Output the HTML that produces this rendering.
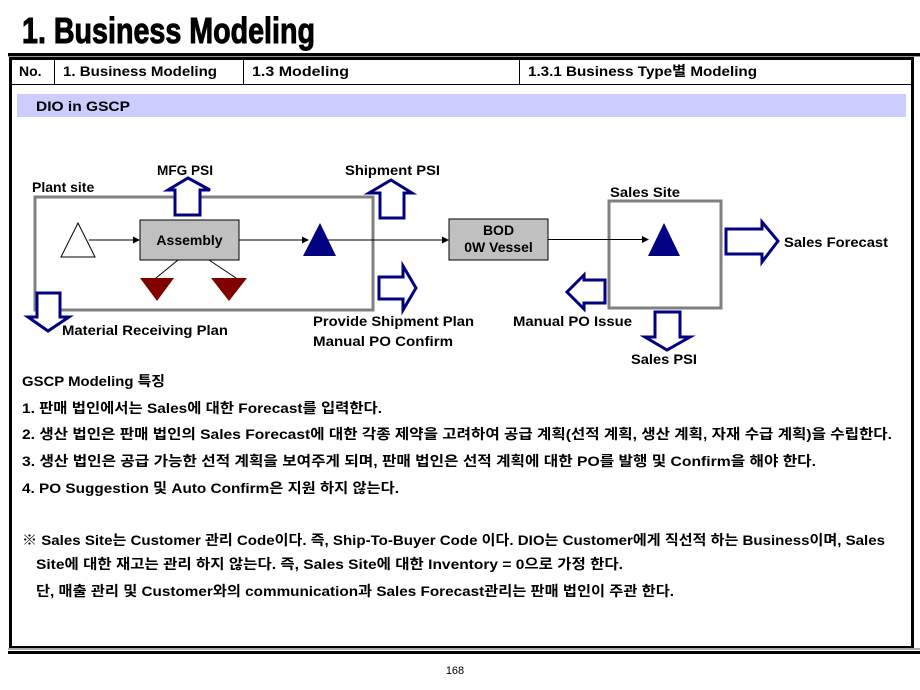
<!DOCTYPE html>
<html><head><meta charset="utf-8"><style>
html,body{margin:0;padding:0;background:#fff;}
svg{display:block;}
text{font-family:"Liberation Sans","Noto Sans CJK KR",sans-serif;font-weight:bold;fill:#000;}
</style></head><body>
<svg width="920" height="690" viewBox="0 0 920 690" xmlns="http://www.w3.org/2000/svg">
<text x="22" y="43" font-size="36" textLength="293" lengthAdjust="spacingAndGlyphs" stroke="#000" stroke-width="1">1. Business Modeling</text>
<rect x="8" y="53" width="912" height="3" fill="#000"/>
<rect x="8" y="56" width="912" height="1" fill="#999"/>
<rect x="10.5" y="58.5" width="902" height="589" fill="none" stroke="#000" stroke-width="3"/>
<rect x="8" y="648" width="912" height="2" fill="#aaa"/>
<rect x="8" y="651" width="912" height="3" fill="#000"/>
<line x1="10" y1="84.5" x2="913" y2="84.5" stroke="#000" stroke-width="1"/>
<line x1="54.5" y1="58" x2="54.5" y2="84" stroke="#000"/>
<line x1="243.5" y1="58" x2="243.5" y2="84" stroke="#000"/>
<line x1="519.5" y1="58" x2="519.5" y2="84" stroke="#000"/>
<g font-size="14">
<text x="19" y="76">No.</text>
<text x="63" y="76" textLength="154" lengthAdjust="spacingAndGlyphs">1. Business Modeling</text>
<text x="252" y="76" textLength="97" lengthAdjust="spacingAndGlyphs">1.3 Modeling</text>
<text x="528" y="76" textLength="229" lengthAdjust="spacingAndGlyphs">1.3.1 Business Type별 Modeling</text>
</g>
<rect x="17" y="94" width="889" height="23" fill="#ccccff"/>
<text x="36" y="111" font-size="14" textLength="94" lengthAdjust="spacingAndGlyphs">DIO in GSCP</text>

<rect x="35" y="197" width="338" height="113" fill="none" stroke="#808080" stroke-width="3"/>
<rect x="609" y="201" width="112" height="107" fill="none" stroke="#808080" stroke-width="3"/>
<polygon points="61,257 95,257 78,223" fill="#fff" stroke="#000" stroke-width="1"/>
<rect x="140" y="220" width="99" height="40" fill="#c0c0c0" stroke="#000"/>
<text x="189.5" y="245" font-size="14" text-anchor="middle">Assembly</text>
<rect x="449" y="219" width="99" height="41" fill="#c0c0c0" stroke="#000"/>
<text x="498.5" y="235" font-size="14" text-anchor="middle">BOD</text>
<text x="498.5" y="252" font-size="14" text-anchor="middle">0W Vessel</text>
<g stroke="#000" stroke-width="1">
<line x1="89" y1="240" x2="134" y2="240"/>
<line x1="239" y1="240" x2="302" y2="240"/>
<line x1="320" y1="240" x2="443" y2="240"/>
<line x1="548" y1="239.5" x2="643" y2="239.5"/>
<line x1="178" y1="260" x2="156" y2="278"/>
<line x1="209" y1="260" x2="236" y2="278"/>
</g>
<g fill="#000">
<polygon points="140,240 133,236.5 133,243.5"/>
<polygon points="309,240 302,236.5 302,243.5"/>
<polygon points="449,240 442,236.5 442,243.5"/>
<polygon points="649,239.5 642,236 642,243"/>
</g>
<polygon points="303,256 336,256 320,223" fill="#000080"/>
<polygon points="648,256 680,256 664,223" fill="#000080"/>
<polygon points="140,278 174,278 157,301" fill="#800000"/>
<polygon points="211,278 247,278 229,301" fill="#800000"/>

<g fill="#fff" stroke="#000080" stroke-width="3" stroke-linejoin="miter">
<polygon points="175,215 175,190 168,190 188,178 210,190 200,190 200,215"/>
<polygon points="380,218 380,193 369,193 391,180 412,193 404,193 404,218"/>
<polygon points="379,277 403,277 403,266 416,288 403,310 403,299 379,299"/>
<polygon points="37,293 60,293 60,317 69,317 48,331 28,317 37,317"/>
<polygon points="726,229 762,229 762,222 778,241 762,262 762,254 726,254"/>
<polygon points="605,280 584,280 584,275 567,292 584,309 584,303 605,303"/>
<polygon points="655,312 680,312 680,337 690,337 667,350 645,337 655,337"/>
</g>

<g font-size="14">
<text x="32" y="192">Plant site</text>
<text x="157" y="175" textLength="56" lengthAdjust="spacingAndGlyphs">MFG PSI</text>
<text x="345" y="175" textLength="95" lengthAdjust="spacingAndGlyphs">Shipment PSI</text>
<text x="610" y="197" textLength="70" lengthAdjust="spacingAndGlyphs">Sales Site</text>
<text x="784" y="247" textLength="104" lengthAdjust="spacingAndGlyphs">Sales Forecast</text>
<text x="62" y="335" textLength="166" lengthAdjust="spacingAndGlyphs">Material Receiving Plan</text>
<text x="313" y="326" textLength="161" lengthAdjust="spacingAndGlyphs">Provide Shipment Plan</text>
<text x="313" y="346" textLength="140" lengthAdjust="spacingAndGlyphs">Manual PO Confirm</text>
<text x="513" y="326" textLength="119" lengthAdjust="spacingAndGlyphs">Manual PO Issue</text>
<text x="631" y="364" textLength="66" lengthAdjust="spacingAndGlyphs">Sales PSI</text>
</g>

<g font-size="14">
<text x="22" y="386" textLength="143" lengthAdjust="spacingAndGlyphs">GSCP Modeling 특징</text>
<text x="22" y="413" textLength="360" lengthAdjust="spacingAndGlyphs">1. 판매 법인에서는 Sales에 대한 Forecast를 입력한다.</text>
<text x="22" y="439" textLength="870" lengthAdjust="spacingAndGlyphs">2. 생산 법인은 판매 법인의 Sales Forecast에 대한 각종 제약을 고려하여 공급 계획(선적 계획, 생산 계획, 자재 수급 계획)을 수립한다.</text>
<text x="22" y="466" textLength="794" lengthAdjust="spacingAndGlyphs">3. 생산 법인은 공급 가능한 선적 계획을 보여주게 되며, 판매 법인은 선적 계획에 대한 PO를 발행 및 Confirm을 해야 한다.</text>
<text x="22" y="493" textLength="377" lengthAdjust="spacingAndGlyphs">4. PO Suggestion 및 Auto Confirm은 지원 하지 않는다.</text>
<text x="22" y="545" textLength="863" lengthAdjust="spacingAndGlyphs">※ Sales Site는 Customer 관리 Code이다. 즉, Ship-To-Buyer Code 이다. DIO는 Customer에게 직선적 하는 Business이며, Sales</text>
<text x="36" y="569" textLength="587" lengthAdjust="spacingAndGlyphs">Site에 대한 재고는 관리 하지 않는다. 즉, Sales Site에 대한 Inventory = 0으로 가정 한다.</text>
<text x="36" y="596" textLength="638" lengthAdjust="spacingAndGlyphs">단, 매출 관리 및 Customer와의 communication과 Sales Forecast관리는 판매 법인이 주관 한다.</text>
</g>
<text x="455" y="674" font-size="11" text-anchor="middle" style="font-weight:normal">168</text>
</svg>
</body></html>
